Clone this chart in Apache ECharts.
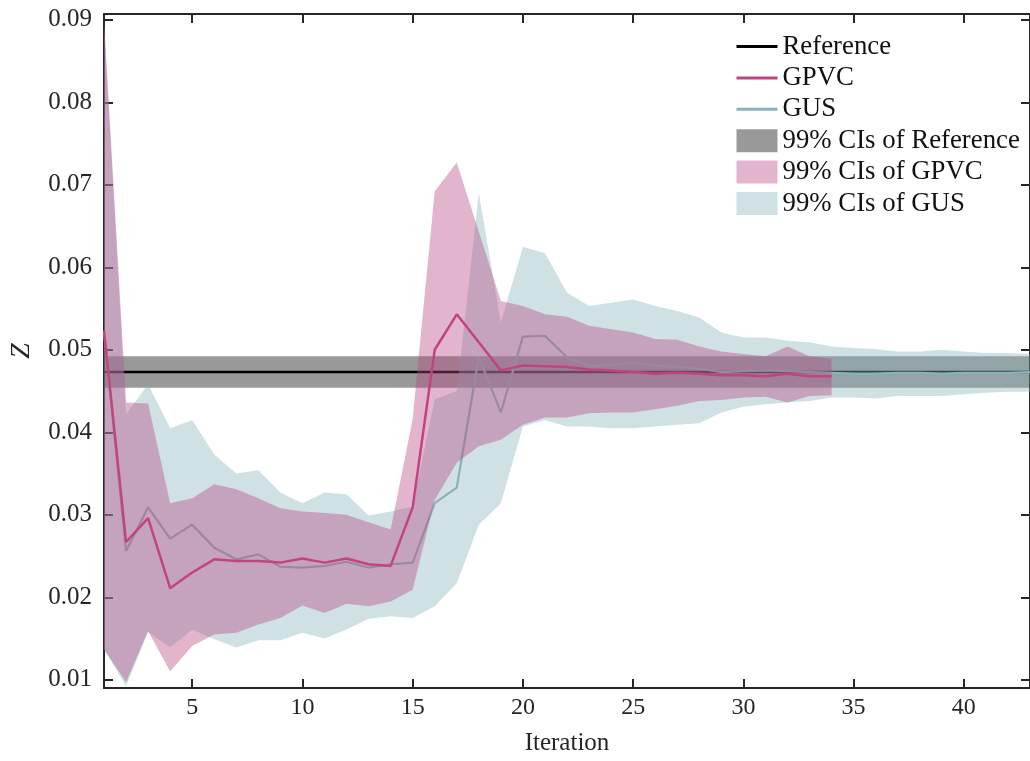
<!DOCTYPE html>
<html><head><meta charset="utf-8">
<script src="https://cdn.jsdelivr.net/npm/echarts@6/dist/echarts.min.js"></script>
<style>html,body{margin:0;padding:0;background:#fff}#c{width:1030px;height:761px}</style>
</head><body><div id="c"></div>
<script>
// ---- data ----
const yTicks = [0.01, 0.02, 0.03, 0.04, 0.05, 0.06, 0.07, 0.08, 0.09];
const xTicks = [5, 10, 15, 20, 25, 30, 35, 40];
const referenceMean = 0.0473;
const referenceLower = 0.0454;
const referenceUpper = 0.0492;
const referenceIters = [1, 43];

const gpvcMean = [0.0523,0.0267,0.0296,0.0211,0.0230,0.0246,0.0244,0.0244,0.0242,0.0247,
  0.0242,0.0247,0.0240,0.0238,0.0309,0.0500,0.0543,0.0509,0.0475,0.0481,
  0.0480,0.0479,0.0476,0.0475,0.0473,0.0471,0.0472,0.0471,0.0469,0.0469,
  0.0468,0.0471,0.0468,0.0468];
const gpvcUpper = [0.0900,0.0436,0.0435,0.0314,0.0320,0.0337,0.0331,0.0320,0.0308,0.0304,
  0.0302,0.0300,0.0291,0.0282,0.0416,0.0692,0.0727,0.0643,0.0559,0.0553,
  0.0543,0.0540,0.0529,0.0525,0.0521,0.0513,0.0512,0.0504,0.0498,0.0495,
  0.0492,0.0504,0.0492,0.0489];
const gpvcLower = [0.0137,0.0097,0.0159,0.0110,0.0141,0.0155,0.0157,0.0167,0.0175,0.0190,
  0.0181,0.0192,0.0189,0.0195,0.0209,0.0318,0.0363,0.0383,0.0391,0.0409,
  0.0418,0.0418,0.0423,0.0424,0.0424,0.0428,0.0432,0.0438,0.0439,0.0442,
  0.0443,0.0436,0.0444,0.0445];

const gusMean = [0.0523,0.0256,0.0309,0.0271,0.0288,0.0260,0.0246,0.0252,0.0237,0.0236,
  0.0238,0.0243,0.0236,0.0240,0.0242,0.0314,0.0333,0.0491,0.0424,0.0516,
  0.0517,0.0491,0.0480,0.0482,0.0484,0.0481,0.0479,0.0477,0.0473,0.0474,
  0.0475,0.0474,0.0473,0.0472,0.0471,0.0471,0.0472,0.0472,0.0471,0.0472,
  0.0472,0.0472,0.0473];
const gusUpper = [0.0895,0.0422,0.0458,0.0405,0.0415,0.0373,0.0350,0.0354,0.0327,0.0314,
  0.0327,0.0325,0.0299,0.0304,0.0310,0.0440,0.0450,0.0690,0.0533,0.0625,
  0.0617,0.0569,0.0553,0.0557,0.0561,0.0553,0.0547,0.0539,0.0521,0.0515,
  0.0515,0.0511,0.0509,0.0504,0.0502,0.0501,0.0498,0.0498,0.0500,0.0498,
  0.0496,0.0496,0.0495];
const gusLower = [0.0137,0.0092,0.0158,0.0139,0.0161,0.0149,0.0139,0.0148,0.0148,0.0157,
  0.0150,0.0161,0.0174,0.0177,0.0175,0.0189,0.0217,0.0288,0.0314,0.0407,
  0.0415,0.0407,0.0407,0.0405,0.0405,0.0407,0.0409,0.0411,0.0424,0.0431,
  0.0434,0.0436,0.0438,0.0442,0.0442,0.0441,0.0444,0.0444,0.0444,0.0446,
  0.0448,0.0449,0.0449];

// ---- styles ----
const FONT = 'Liberation Serif';
const AX = '#262626';
const C_REF = '#000000', C_GPVC = '#c2447e', C_GUS = '#88b2ba';
const F_REF = 'rgba(0,0,0,0.4)', F_GPVC = 'rgba(185,70,130,0.4)', F_GUS = 'rgba(135,180,185,0.4)';

function iter(arr) { return arr.map((v, i) => [i + 1, v]); }

function band(name, xs, lower, upper, fill, z) {
  return {
    name, type: 'custom', xAxisIndex: 0, yAxisIndex: 0, clip: true, z: z,
    data: xs.map((x, i) => [x, lower[i], upper[i]]),
    encode: { x: 0, y: [1, 2] },
    itemStyle: { color: fill },
    silent: true,
    renderItem: function (params, api) {
      if (params.dataIndex !== 0) return null;
      const pts = [];
      for (let i = 0; i < xs.length; i++) pts.push(api.coord([xs[i], upper[i]]));
      for (let i = xs.length - 1; i >= 0; i--) pts.push(api.coord([xs[i], lower[i]]));
      return { type: 'polygon', shape: { points: pts }, style: { fill: fill, stroke: null } };
    }
  };
}

const xsGpvc = gpvcMean.map((v, i) => i + 1);
const xsGus = gusMean.map((v, i) => i + 1);

const axisCommon = {
  axisLine: { show: true, onZero: false, lineStyle: { color: AX, width: 2 } },
  splitLine: { show: false },
};

const option = {
  animation: false,
  backgroundColor: '#fff',
  textStyle: { fontFamily: FONT },
  grid: { left: 100, top: 14, width: 931, height: 674 },
  xAxis: [
    Object.assign({
      type: 'value', min: 1, max: 43, position: 'bottom',
      name: 'Iteration', nameLocation: 'middle', nameGap: 43,
      nameTextStyle: { fontFamily: FONT, fontSize: 25, color: AX },
      axisTick: { show: true, inside: true, length: 9, lineStyle: { color: AX, width: 2 }, customValues: xTicks },
      axisLabel: { show: true, margin: 8, fontFamily: FONT, fontSize: 24, color: AX, customValues: xTicks }
    }, axisCommon),
    Object.assign({
      type: 'value', min: 1, max: 43, position: 'top',
      axisTick: { show: true, inside: true, length: 9, lineStyle: { color: AX, width: 2 }, customValues: xTicks },
      axisLabel: { show: false }
    }, axisCommon)
  ],
  yAxis: [
    Object.assign({
      type: 'value', min: 0.009, max: 0.0907, position: 'left',
      name: 'Z', nameLocation: 'middle', nameGap: 68, nameRotate: 90,
      nameTextStyle: { fontFamily: FONT, fontSize: 28, fontStyle: 'italic', color: AX },
      axisTick: { show: true, inside: true, length: 9, lineStyle: { color: AX, width: 2 }, customValues: yTicks },
      axisLabel: { show: true, margin: 12, fontFamily: FONT, fontSize: 25, color: AX, customValues: yTicks,
        formatter: v => Number(v).toFixed(2) }
    }, axisCommon),
    Object.assign({
      type: 'value', min: 0.009, max: 0.0907, position: 'right',
      axisTick: { show: true, inside: true, length: 9, lineStyle: { color: AX, width: 2 }, customValues: yTicks },
      axisLabel: { show: false }
    }, axisCommon)
  ],
  legend: {
    left: 730, top: 28, orient: 'vertical',
    itemWidth: 41, itemHeight: 23, itemGap: 4.4, itemTextGap: 0,
    textStyle: { fontFamily: FONT, fontSize: 26.8, color: '#111', lineHeight: 23 },
    data: [
      { name: 'Reference', itemStyle: { opacity: 0 }, lineStyle: { width: 3 } },
      { name: 'GPVC', itemStyle: { opacity: 0 }, lineStyle: { width: 3 } },
      { name: 'GUS', itemStyle: { opacity: 0 }, lineStyle: { width: 3 } },
      { name: '99% CIs of Reference', icon: 'rect' },
      { name: '99% CIs of GPVC', icon: 'rect' },
      { name: '99% CIs of GUS', icon: 'rect' }
    ],
    selectedMode: false
  },
  series: [
    band('99% CIs of Reference', referenceIters, [referenceLower, referenceLower], [referenceUpper, referenceUpper], F_REF, 1),
    { name: 'Reference', type: 'line', z: 2, data: referenceIters.map(x => [x, referenceMean]), symbol: 'none',
      lineStyle: { color: C_REF, width: 2.5 }, itemStyle: { color: C_REF }, clip: true },
    { name: 'GUS', type: 'line', z: 3, data: iter(gusMean), symbol: 'none',
      lineStyle: { color: C_GUS, width: 2.2 }, itemStyle: { color: C_GUS }, clip: true },
    band('99% CIs of GUS', xsGus, gusLower, gusUpper, F_GUS, 4),
    band('99% CIs of GPVC', xsGpvc, gpvcLower, gpvcUpper, F_GPVC, 5),
    { name: 'GPVC', type: 'line', z: 6, data: iter(gpvcMean), symbol: 'none',
      lineStyle: { color: C_GPVC, width: 2.5 }, itemStyle: { color: C_GPVC }, clip: true }
  ]
};
const chart = echarts.init(document.getElementById('c'), null, { renderer: 'canvas' });
chart.setOption(option);
</script>
</body></html>
